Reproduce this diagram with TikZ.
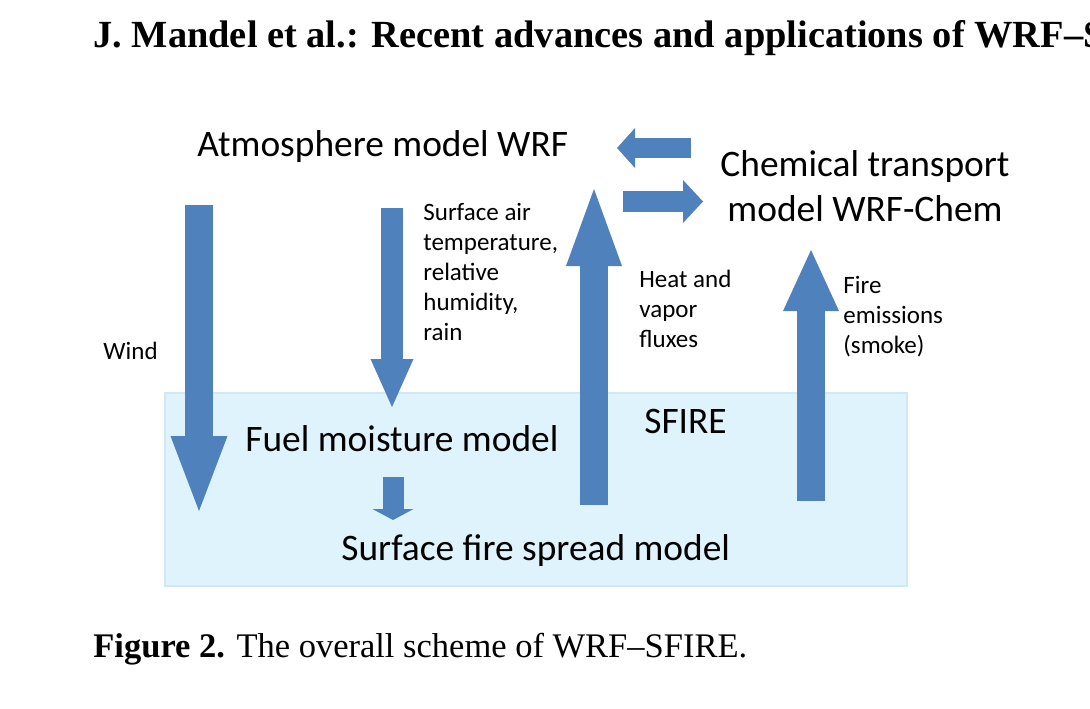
\documentclass[tikz,border=0pt]{standalone}
\usepackage{fontspec}
\setmainfont{Liberation Serif}
\newfontfamily\calib{Carlito}
\usetikzlibrary{arrows.meta}
\definecolor{wrfblue}{HTML}{4F81BD}
\definecolor{sfirebg}{HTML}{DFF3FC}
\definecolor{sfireedge}{HTML}{D3E8F0}

\tikzset{
  bigtxt/.style={inner sep=0pt, font=\calib\fontsize{18.7}{22.5}\selectfont},
  smalltxt/.style={inner sep=0pt, align=left, anchor=base west,
                   font=\calib\fontsize{12.5}{15}\selectfont},
  blockarrow/.style n args={3}{draw=wrfblue, line width=#1,
                   -{Triangle[width=#2, length=#3, line width=0pt]}},
}

\begin{document}
\begin{tikzpicture}[x=0.5pt, y=-0.5pt]
  \useasboundingbox (0,0) rectangle (1090,708);
  % header and caption of the page
  \node[anchor=base west, inner sep=0pt, font=\bfseries\fontsize{19.2}{23}\selectfont]
    (title) at (93,47) {J. Mandel et al.: Recent advances and applications of WRF--S};
  \node[anchor=base west, inner sep=0pt, font=\fontsize{17.25}{21}\selectfont]
    (caption) at (93,657) {\textbf{Figure 2.} The overall scheme of WRF--SFIRE.};

  % SFIRE area
  \fill[sfirebg, draw=sfireedge, line width=0.6pt] (165,393) rectangle (907,586);

  % arrow ends
  \coordinate (windtop) at (199,205);
  \coordinate (windtip) at (199,511);
  \coordinate (surftop) at (392,208);
  \coordinate (surftip) at (392,407);
  \coordinate (fueltop) at (393,477);
  \coordinate (fueltip) at (393,520);
  \coordinate (heatbot) at (594,505);
  \coordinate (heattip) at (594,189);
  \coordinate (firebot) at (811,501);
  \coordinate (firetip) at (811,250);
  \coordinate (backtail) at (691,148);
  \coordinate (backtip) at (617,148);
  \coordinate (chemtail) at (623,201.5);
  \coordinate (chemtip) at (703,201.5);

  \draw[blockarrow={14pt}{28.5pt}{37.5pt}] (windtop) -- (windtip);
  \draw[blockarrow={11pt}{21.5pt}{24pt}] (surftop) -- (surftip);
  \draw[blockarrow={10.5pt}{20.5pt}{5.5pt}] (fueltop) -- (fueltip);
  \draw[blockarrow={14pt}{28pt}{38.5pt}] (heatbot) -- (heattip);
  \draw[blockarrow={14pt}{28pt}{30.5pt}] (firebot) -- (firetip);
  \draw[blockarrow={10pt}{20pt}{9pt}] (backtail) -- (backtip);
  \draw[blockarrow={10.5pt}{21.5pt}{10pt}] (chemtail) -- (chemtip);

  % models
  \node[bigtxt, anchor=base west] (atm) at (197,156) {Atmosphere model WRF};
  \node[bigtxt, anchor=base, align=center] (chem) at (865,221)
    {Chemical transport\\model WRF-Chem};
  \node[bigtxt, anchor=base west] (fuel) at (245,451) {Fuel moisture model};
  \node[bigtxt, anchor=base west] (sfire) at (644,433) {SFIRE};
  \node[bigtxt, anchor=base west] (spread) at (341,560) {Surface fire spread model};

  % arrow labels (base = last line)
  \node[smalltxt] (wind) at (103,359) {Wind};
  \node[smalltxt] (surfair) at (423,340)
    {Surface air\\temperature,\\relative\\humidity,\\rain};
  \node[smalltxt] (heat) at (639,347) {Heat and\\vapor\\fluxes};
  \node[smalltxt] (fire) at (843,353) {Fire\\emissions\\(smoke)};
\end{tikzpicture}
\end{document}
